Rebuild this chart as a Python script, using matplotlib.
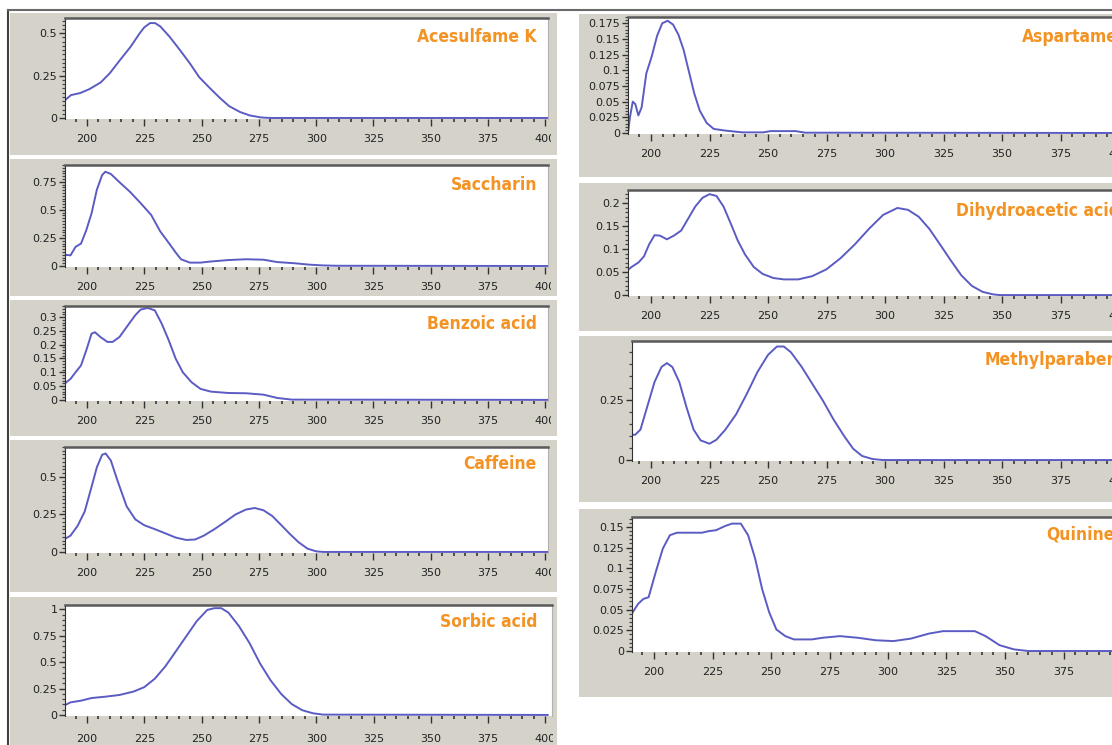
import numpy as np
import matplotlib
matplotlib.use("Agg")
import matplotlib.pyplot as plt
from matplotlib import font_manager
from matplotlib.font_manager import FontProperties
from matplotlib.patches import Rectangle
from matplotlib.lines import Line2D
from matplotlib.ticker import FixedLocator, MultipleLocator
from matplotlib.transforms import Bbox, TransformedBbox

########################################
# data (wavelength nm, absorbance)

acesulfame_nm = [190, 193, 197, 201, 206, 210, 214, 219, 223, 225, 227.5, 229.7, 232, 236,
                 240.6, 245, 249, 253.7, 258, 262, 266.8, 271, 276, 280, 401]
acesulfame_abs = [0.10, 0.135, 0.147, 0.17, 0.21, 0.265, 0.335, 0.42, 0.50, 0.535, 0.56, 0.56,
                  0.54, 0.48, 0.40, 0.32, 0.24, 0.175, 0.118, 0.07, 0.035, 0.015, 0.003, 0, 0]

saccharin_nm = [190.4, 192.8, 195, 197.4, 199.7, 202, 204.3, 206.6, 208, 210.4, 214, 218.8,
                223.4, 228, 231.9, 235.7, 238.7, 241, 244.9, 249.5, 254, 261.7, 269.4, 277,
                283, 290.8, 296.9, 303, 309, 401]
saccharin_abs = [0.10, 0.095, 0.17, 0.20, 0.32, 0.47, 0.68, 0.81, 0.84, 0.82, 0.75, 0.66, 0.56,
                 0.455, 0.31, 0.205, 0.12, 0.06, 0.03, 0.03, 0.04, 0.053, 0.06, 0.056, 0.035,
                 0.024, 0.012, 0.005, 0.002, 0]

benzoic_nm = [190.4, 192.8, 195, 197.4, 199.7, 202, 203.5, 205.8, 208.9, 211.2, 214.2, 217.3,
              221, 223.4, 226.5, 229.6, 232.6, 235.7, 238.7, 241.8, 245.6, 249.5, 254, 261.7,
              269.4, 277, 283, 289.3, 401]
benzoic_abs = [0.06, 0.076, 0.10, 0.125, 0.18, 0.24, 0.245, 0.228, 0.21, 0.21, 0.228, 0.264,
               0.306, 0.327, 0.333, 0.324, 0.276, 0.215, 0.149, 0.10, 0.064, 0.04, 0.03, 0.025,
               0.024, 0.019, 0.007, 0.001, 0]

caffeine_nm = [190.4, 192.8, 195.9, 199, 202, 204.3, 206.6, 208.1, 210.4, 213.5, 217.3, 221.1,
               225, 229.6, 234.2, 238.7, 243.3, 247.2, 251, 255.6, 260.2, 264.8, 269.4, 273.2,
               277, 280.8, 284.7, 288.5, 292.3, 296.2, 300, 303, 401]
caffeine_abs = [0.087, 0.109, 0.174, 0.27, 0.435, 0.565, 0.648, 0.657, 0.61, 0.467, 0.304, 0.217,
                0.178, 0.152, 0.124, 0.096, 0.08, 0.083, 0.109, 0.152, 0.20, 0.25, 0.283, 0.293,
                0.278, 0.24, 0.18, 0.12, 0.065, 0.022, 0.004, 0, 0]

sorbic_nm = [190.4, 192.8, 197.4, 202, 208.1, 214.2, 220.3, 225, 229.6, 234.2, 238.7, 243.3,
             247.9, 252.5, 255.6, 258.6, 261.7, 266.3, 270.9, 275.5, 280.1, 284.7, 289.3,
             293.9, 298.5, 303, 401]
sorbic_abs = [0.093, 0.119, 0.135, 0.16, 0.173, 0.189, 0.221, 0.263, 0.343, 0.46, 0.60, 0.744,
              0.888, 0.994, 1.01, 1.01, 0.968, 0.84, 0.68, 0.487, 0.327, 0.199, 0.103, 0.045,
              0.016, 0.003, 0]

aspartame_nm = [190.2, 191, 192.2, 193.3, 194.6, 196, 198, 200.3, 202.6, 204.8, 207.1, 209.4,
                211.7, 213.9, 216.2, 218.5, 220.8, 223.8, 226.8, 231.4, 239, 248, 251, 261.7,
                266, 402]
aspartame_abs = [0.0, 0.025, 0.05, 0.046, 0.028, 0.041, 0.095, 0.122, 0.155, 0.175, 0.179,
                 0.173, 0.157, 0.133, 0.098, 0.063, 0.036, 0.016, 0.0065, 0.004, 0.001, 0.001,
                 0.003, 0.003, 0.0005, 0]

dha_nm = [190, 191.7, 194.7, 197, 199.2, 201.5, 203.8, 206.8, 209.8, 212.9, 215.9, 218.9, 222,
          225, 228, 231, 234.1, 237.1, 240.2, 243.9, 247.7, 252.3, 256.8, 262.9, 268.9, 275,
          281, 287.1, 293.2, 299.2, 305.3, 309.8, 314.4, 318.9, 323.5, 328, 332.6, 337.1,
          341.7, 346.2, 349, 402]
dha_abs = [0.054, 0.061, 0.071, 0.084, 0.11, 0.13, 0.129, 0.121, 0.129, 0.14, 0.166, 0.192,
           0.211, 0.219, 0.215, 0.192, 0.155, 0.118, 0.088, 0.061, 0.046, 0.037, 0.034, 0.034,
           0.041, 0.056, 0.08, 0.11, 0.144, 0.174, 0.189, 0.185, 0.17, 0.144, 0.11, 0.076,
           0.043, 0.02, 0.007, 0.0015, 0, 0]

methylparaben_nm = [190, 193.2, 195.5, 198.5, 201.5, 204.5, 206.8, 209.1, 212.1, 215.2, 218.2,
                    221.2, 225, 228, 231.8, 236.4, 240.9, 245.5, 250, 253.8, 256.8, 259.8,
                    264.4, 268.9, 273.5, 278, 282.6, 286.4, 290.2, 294.7, 299.2, 402]
methylparaben_abs = [0.106, 0.105, 0.127, 0.226, 0.325, 0.388, 0.404, 0.388, 0.325, 0.219,
                     0.127, 0.082, 0.068, 0.085, 0.127, 0.191, 0.275, 0.367, 0.438, 0.473,
                     0.473, 0.449, 0.388, 0.318, 0.247, 0.169, 0.099, 0.047, 0.017, 0.004, 0, 0]

quinine_nm = [190.5, 193.2, 195.5, 197.7, 200.8, 203.8, 206.8, 209.8, 215.9, 220.5, 223.5,
              226.5, 230.3, 233.3, 237.1, 240.2, 243.2, 246.2, 249.2, 252.3, 256.1, 259.8,
              267.4, 272, 279.5, 287.1, 294.7, 302.3, 309.8, 317.4, 323.5, 329.5, 337.1,
              341.7, 347.7, 353.8, 359.8, 402]
quinine_abs = [0.045, 0.057, 0.063, 0.065, 0.096, 0.124, 0.14, 0.143, 0.143, 0.143, 0.145,
               0.146, 0.151, 0.154, 0.154, 0.14, 0.112, 0.075, 0.047, 0.026, 0.018, 0.014,
               0.014, 0.016, 0.018, 0.016, 0.013, 0.012, 0.015, 0.021, 0.024, 0.024, 0.024,
               0.018, 0.007, 0.002, 0, 0]

names = ["Acesulfame K", "Saccharin", "Benzoic acid", "Caffeine", "Sorbic acid",
         "Aspartame", "Dihydroacetic acid", "Methylparaben", "Quinine"]
xticks = [200, 225, 250, 275, 300, 325, 350, 375, 400]

########################################
# layout in pixels of the original screenshot

W, H = 1112, 745
GRAY = "#d5d2c9"
LINE = "#5b5bc4"
ORANGE = "#f39324"


def fx(px):
    return px / W


def fy(py):
    return 1 - py / H


def label_props():
    # narrow bold face for the orange names
    for fam, stretch, size in [("Liberation Sans Narrow", "normal", 13.5),
                               ("DejaVu Sans", "condensed", 12.5)]:
        fp = FontProperties(family=fam, stretch=stretch, weight="bold", size=size)
        try:
            path = font_manager.findfont(fp, fallback_to_default=False)
        except Exception:
            continue
        if fam != "DejaVu Sans" or "Condensed" in path:
            return fp
    return FontProperties(family="DejaVu Sans", weight="bold", size=11.5)


label_fp = label_props()
fig = plt.figure(figsize=(W / 100, H / 100), dpi=100)


def panel(gray, white, x200, k, ylim, yticks, yminor, nm, ab, name, text_x, text_y, clip_x,
          xpad=5.5):
    gx0, gy0, gx1, gy1 = gray
    L, T, R, B = white
    fig.add_artist(Rectangle((fx(gx0), fy(gy1)), (gx1 - gx0) / W, (gy1 - gy0) / H,
                             transform=fig.transFigure, fc=GRAY, ec="none", zorder=-1))
    ax = fig.add_axes([fx(L), fy(B), (R - L) / W, (B - T) / H])
    ax.set_facecolor("white")
    ax.plot(nm, ab, color=LINE, lw=1.4)
    ax.set_xlim(200 + (L - x200) / k, 200 + (R - x200) / k)
    ax.set_ylim(*ylim)

    ax.xaxis.set_major_locator(FixedLocator(xticks))
    ax.xaxis.set_minor_locator(MultipleLocator(5))
    ax.set_xticklabels([str(t) for t in xticks])
    ax.yaxis.set_major_locator(FixedLocator(yticks))
    ax.yaxis.set_minor_locator(MultipleLocator(yminor))
    ax.set_yticklabels(["{:g}".format(t) for t in yticks])

    ax.tick_params(axis="x", which="major", length=5, width=1, pad=xpad, labelsize=8,
                   colors="#333333", labelcolor="#222222")
    ax.tick_params(axis="x", which="minor", length=2.5, width=1.3, colors="#444444")
    ax.tick_params(axis="y", which="major", length=4.5, width=1, pad=1, labelsize=8,
                   colors="#333333", labelcolor="#222222")
    ax.tick_params(axis="y", which="minor", length=2.5, width=0.9, colors="#444444")

    ax.spines["bottom"].set_visible(False)
    ax.spines["top"].set_color("#5a5a5a")
    ax.spines["top"].set_linewidth(1.8)
    ax.spines["right"].set_color("#b0b0b0")
    ax.spines["left"].set_color("#303030")

    clip = TransformedBbox(Bbox([[fx(gx0), fy(gy1)], [fx(clip_x), fy(gy0)]]), fig.transFigure)
    for lab in ax.get_xticklabels():
        lab.set_clip_box(clip)
        lab.set_clip_on(True)

    fig.text(fx(text_x), fy(text_y), name, color=ORANGE, fontproperties=label_fp,
             ha="right", va="baseline")
    return ax


# left column
panel((10, 13, 557, 155), (65, 18, 548, 119), 87, 2.292, (-0.006, 0.59),
      [0, 0.25, 0.5], 0.025, acesulfame_nm, acesulfame_abs, names[0], 537, 42, 551)
panel((10, 159, 557, 296), (65, 165, 548, 267), 87, 2.292, (-0.009, 0.90),
      [0, 0.25, 0.5, 0.75], 0.025, saccharin_nm, saccharin_abs, names[1], 537, 190, 551)
panel((10, 300, 557, 436), (65, 306, 548, 401), 87, 2.292, (-0.004, 0.34),
      [0, 0.05, 0.1, 0.15, 0.2, 0.25, 0.3], 0.01, benzoic_nm, benzoic_abs, names[2], 537, 329, 551)
panel((10, 440, 557, 592), (65, 447, 548, 553), 87, 2.292, (-0.007, 0.70),
      [0, 0.25, 0.5], 0.025, caffeine_nm, caffeine_abs, names[3], 537, 469, 551)
panel((10, 597, 557, 760), (65, 605, 552, 716), 87, 2.292, (-0.01, 1.04),
      [0, 0.25, 0.5, 0.75, 1], 0.05, sorbic_nm, sorbic_abs, names[4], 537, 627, 553, xpad=8)

# right column
panel((579, 14, 1112, 177), (628, 17, 1121, 134), 651, 2.34, (-0.0016, 0.185),
      [0, 0.025, 0.05, 0.075, 0.1, 0.125, 0.15, 0.175], 0.005, aspartame_nm, aspartame_abs,
      names[5], 1118, 42, 1112)
panel((579, 183, 1112, 331), (628, 190, 1121, 296), 651, 2.34, (-0.002, 0.228),
      [0, 0.05, 0.1, 0.15, 0.2], 0.01, dha_nm, dha_abs, names[6], 1120, 216, 1112)
panel((579, 336, 1112, 502), (632, 341, 1121, 461), 651, 2.34, (-0.004, 0.496),
      [0, 0.25], 0.05, methylparaben_nm, methylparaben_abs, names[7], 1118, 365, 1112)
panel((579, 509, 1112, 697), (632, 517, 1121, 652), 654, 2.34, (-0.0012, 0.162),
      [0, 0.025, 0.05, 0.075, 0.1, 0.125, 0.15], 0.005, quinine_nm, quinine_abs,
      names[8], 1115, 540, 1112)

# outer frame lines of the screenshot
fig.add_artist(Line2D([fx(8), fx(8)], [fy(10), fy(745)], transform=fig.transFigure,
                      color="#404040", lw=1.5))
fig.add_artist(Line2D([fx(8), fx(1112)], [fy(10), fy(10)], transform=fig.transFigure,
                      color="#6a6a6a", lw=1.5))

fig.savefig("out.png", dpi=100)
